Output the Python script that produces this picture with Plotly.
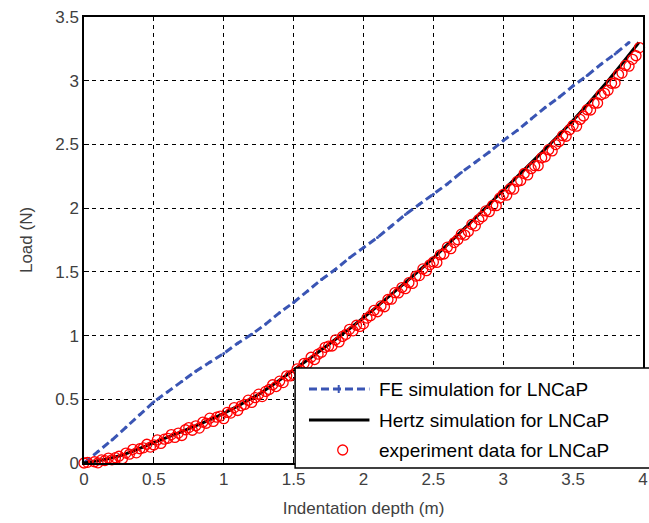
import plotly.graph_objects as go

# FE simulation (load vs indentation depth)
fe_depth = [0.0, 0.1, 0.2, 0.3, 0.4, 0.5, 0.6, 0.7, 0.8, 0.9,
            1.0, 1.1, 1.2, 1.3, 1.4, 1.5, 1.6, 1.7, 1.8, 1.9,
            2.0, 2.1, 2.2, 2.3, 2.4, 2.5, 2.6, 2.7, 2.8, 2.9,
            3.0, 3.1, 3.2, 3.3, 3.4, 3.5, 3.6, 3.7, 3.8, 3.9]
fe_load = [0.00, 0.09, 0.18, 0.28, 0.38, 0.48, 0.56, 0.64, 0.72, 0.79,
           0.86, 0.94, 1.01, 1.09, 1.18, 1.26, 1.35, 1.44, 1.52, 1.61,
           1.69, 1.77, 1.86, 1.95, 2.03, 2.11, 2.19, 2.28, 2.36, 2.44,
           2.53, 2.61, 2.70, 2.79, 2.87, 2.96, 3.04, 3.13, 3.21, 3.30]

# Hertz model
hertz_depth = [0.0, 0.25, 0.5, 0.75, 1.0, 1.25, 1.5, 1.75, 2.0, 2.25,
               2.5, 2.75, 3.0, 3.25, 3.5, 3.75, 3.97]
hertz_load = [0.0, 0.055, 0.16, 0.27, 0.39, 0.54, 0.73, 0.93, 1.14, 1.37,
              1.61, 1.87, 2.14, 2.41, 2.69, 3.00, 3.30]

# Experimental measurements
exp_depth = [
    0.000, 0.025, 0.050, 0.075, 0.100, 0.125, 0.150, 0.175, 0.200, 0.225,
    0.250, 0.275, 0.300, 0.325, 0.350, 0.375, 0.400, 0.425, 0.450, 0.475,
    0.500, 0.525, 0.550, 0.575, 0.600, 0.625, 0.650, 0.675, 0.700, 0.725,
    0.750, 0.775, 0.800, 0.825, 0.850, 0.875, 0.900, 0.925, 0.950, 0.975,
    1.000, 1.025, 1.050, 1.075, 1.100, 1.125, 1.150, 1.175, 1.200, 1.225,
    1.250, 1.275, 1.300, 1.325, 1.350, 1.375, 1.400, 1.425, 1.450, 1.475,
    1.500, 1.525, 1.550, 1.575, 1.600, 1.625, 1.650, 1.675, 1.700, 1.725,
    1.750, 1.775, 1.800, 1.825, 1.850, 1.875, 1.900, 1.925, 1.950, 1.975,
    2.000, 2.025, 2.050, 2.075, 2.100, 2.125, 2.150, 2.175, 2.200, 2.225,
    2.250, 2.275, 2.300, 2.325, 2.350, 2.375, 2.400, 2.425, 2.450, 2.475,
    2.500, 2.525, 2.550, 2.575, 2.600, 2.625, 2.650, 2.675, 2.700, 2.725,
    2.750, 2.775, 2.800, 2.825, 2.850, 2.875, 2.900, 2.925, 2.950, 2.975,
    3.000, 3.025, 3.050, 3.075, 3.100, 3.125, 3.150, 3.175, 3.200, 3.225,
    3.250, 3.275, 3.300, 3.325, 3.350, 3.375, 3.400, 3.425, 3.450, 3.475,
    3.500, 3.525, 3.550, 3.575, 3.600, 3.625, 3.650, 3.675, 3.700, 3.725,
    3.750, 3.775, 3.800, 3.825, 3.850, 3.875, 3.900, 3.925, 3.950, 3.975,
]
exp_load = [
    0.000, 0.005, -0.006, 0.010, 0.001, 0.024, 0.019, 0.039, 0.025, 0.042,
    0.053, 0.034, 0.078, 0.069, 0.107, 0.080, 0.112, 0.119, 0.147, 0.125,
    0.142, 0.181, 0.154, 0.187, 0.194, 0.223, 0.201, 0.235, 0.216, 0.261,
    0.278, 0.257, 0.292, 0.274, 0.320, 0.312, 0.352, 0.326, 0.360, 0.368,
    0.348, 0.397, 0.392, 0.435, 0.412, 0.449, 0.460, 0.493, 0.475, 0.513,
    0.540, 0.521, 0.562, 0.577, 0.614, 0.600, 0.642, 0.631, 0.684, 0.683,
    0.695, 0.738, 0.728, 0.782, 0.782, 0.830, 0.812, 0.854, 0.870, 0.908,
    0.917, 0.918, 0.967, 0.950, 0.993, 1.010, 1.049, 1.037, 1.081, 1.072,
    1.092, 1.137, 1.156, 1.197, 1.187, 1.233, 1.226, 1.283, 1.286, 1.337,
    1.335, 1.377, 1.368, 1.415, 1.409, 1.467, 1.471, 1.523, 1.509, 1.555,
    1.578, 1.574, 1.634, 1.640, 1.694, 1.682, 1.730, 1.752, 1.796, 1.789,
    1.817, 1.872, 1.861, 1.910, 1.933, 1.978, 1.972, 2.022, 2.019, 2.080,
    2.108, 2.102, 2.152, 2.149, 2.210, 2.217, 2.272, 2.261, 2.310, 2.333,
    2.333, 2.395, 2.403, 2.459, 2.449, 2.499, 2.523, 2.569, 2.564, 2.615,
    2.650, 2.643, 2.696, 2.723, 2.772, 2.770, 2.824, 2.825, 2.890, 2.901,
    2.925, 2.980, 2.982, 3.048, 3.060, 3.120, 3.114, 3.168, 3.196, 3.260,
]

legend_labels = ["FE simulation for LNCaP",
                 "Hertz simulation for LNCaP",
                 "experiment data for LNCaP"]

BLUE = "#3a55b4"
RED = "#ff0000"
GREY = "#404040"
FONT = "Liberation Sans, Arial, sans-serif"

fig = go.Figure()

fig.add_trace(go.Scatter(
    x=fe_depth, y=fe_load, mode="lines+markers",
    line=dict(color=BLUE, width=3, dash="8px,4px"),
    marker=dict(symbol="circle", size=3, color=BLUE),
    showlegend=False,
))
fig.add_trace(go.Scatter(
    x=hertz_depth, y=hertz_load, mode="lines",
    line=dict(color="black", width=3, shape="spline"),
    showlegend=False,
))
fig.add_trace(go.Scatter(
    x=exp_depth, y=exp_load, mode="markers",
    marker=dict(symbol="circle-open", size=10, color=RED,
                line=dict(color=RED, width=1.3)),
    cliponaxis=False, showlegend=False,
))

axis_common = dict(
    showline=True, linecolor="black", linewidth=1.5, mirror=True,
    ticks="inside", ticklen=5, tickcolor="black", tickwidth=1,
    showgrid=True, gridcolor="black", gridwidth=1, griddash="4px,4px",
    zeroline=False, dtick=0.5, ticklabeloverflow="allow",
    tickfont=dict(family=FONT, size=17, color=GREY),
)

fig.update_xaxes(range=[0, 4], tick0=0,
                 title=dict(text="Indentation depth (m)", standoff=14,
                            font=dict(family=FONT, size=17, color=GREY)),
                 **axis_common)
fig.update_yaxes(range=[0, 3.5], tick0=0,
                 title=dict(text="Load (N)", standoff=18,
                            font=dict(family=FONT, size=17, color=GREY)),
                 **axis_common)

# Legend box drawn in paper coordinates
L, R_, T, B = 84, 648, 17, 463
W, H = R_ - L, B - T


def px(xp):
    return (xp - L) / W


def py(yp):
    return (B - yp) / H


shapes = [
    dict(type="rect", xref="paper", yref="paper",
         x0=px(297), x1=px(662), y0=py(468), y1=py(368),
         line=dict(color="black", width=1.5), fillcolor="white", layer="above"),
    dict(type="line", xref="paper", yref="paper",
         x0=px(311), x1=px(372), y0=py(389), y1=py(389),
         line=dict(color=BLUE, width=3, dash="8px,4px"), layer="above"),
    dict(type="line", xref="paper", yref="paper",
         x0=px(311), x1=px(372), y0=py(420), y1=py(420),
         line=dict(color="black", width=3), layer="above"),
    dict(type="circle", xref="paper", yref="paper",
         x0=px(340), x1=px(350), y0=py(455), y1=py(445),
         line=dict(color=RED, width=1.3), layer="above"),
    dict(type="line", xref="paper", yref="paper",
         x0=px(341), x1=px(341), y0=py(393), y1=py(385),
         line=dict(color=BLUE, width=2), layer="above"),
]

annotations = []
for label, yrow in zip(legend_labels, [389, 420, 450]):
    annotations.append(dict(
        text=label, xref="paper", yref="paper", x=px(380), y=py(yrow),
        xanchor="left", yanchor="middle", showarrow=False,
        font=dict(family=FONT, size=19, color="black"),
    ))

fig.update_layout(
    width=649, height=523,
    margin=dict(l=L, r=649 - R_, t=T, b=523 - B),
    plot_bgcolor="white", paper_bgcolor="white",
    shapes=shapes, annotations=annotations,
    showlegend=False,
)

fig.write_html("out.html")
